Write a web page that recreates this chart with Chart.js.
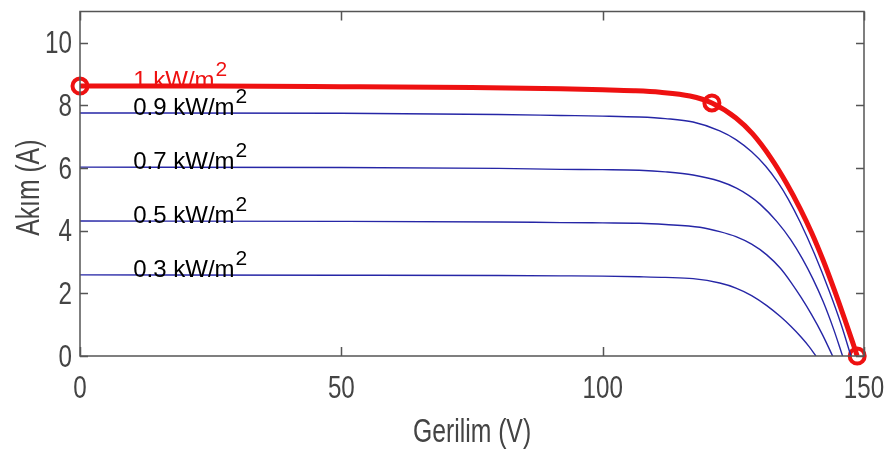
<!DOCTYPE html>
<html>
<head>
<meta charset="utf-8">
<script src="https://cdn.jsdelivr.net/npm/chart.js@4"></script>
<style>
    body { margin: 0; background: #fff; }
    #wrap { width: 885px; height: 452px; position: relative; }
</style>
</head>
<body>
<div id="wrap"><canvas id="ivChart"></canvas></div>
<script>
// I-V curves (V, A)
const v1000 = [0, 25, 50, 75, 92, 100, 106, 111, 116.7, 120.9, 125.5, 128.7, 132.2, 135.2, 137.8, 140, 142.2, 144.3, 146.3, 147.8, 148.7];
const i1000 = [8.62, 8.62, 8.60, 8.57, 8.53, 8.50, 8.47, 8.42, 8.30, 8.08, 7.60, 7.09, 6.32, 5.51, 4.70, 3.93, 3.05, 2.12, 1.18, 0.45, 0];

const v900 = [0, 50, 80, 92, 100, 107, 112, 117.3, 122.4, 125.5, 128.5, 131.2, 133.5, 135.5, 137.8, 140.5, 143.4, 145.6, 147.5];
const i900 = [7.76, 7.75, 7.71, 7.68, 7.66, 7.63, 7.58, 7.47, 7.19, 6.91, 6.52, 6.06, 5.55, 5.01, 4.27, 3.27, 2.05, 1.02, 0];

const v700 = [0, 50, 80, 92, 100, 107, 112, 117.3, 122.4, 125.6, 128, 130.1, 133.3, 136, 138.2, 140.2, 142.2, 144.2, 145.9];
const i700 = [6.03, 6.02, 5.99, 5.96, 5.95, 5.93, 5.88, 5.78, 5.58, 5.36, 5.12, 4.85, 4.30, 3.71, 3.11, 2.47, 1.73, 0.85, 0];

const v500 = [0, 50, 80, 92, 100, 107, 112, 118.6, 122.4, 125.5, 128.5, 131.4, 134, 136, 138, 140, 142, 144.0];
const i500 = [4.31, 4.30, 4.28, 4.26, 4.25, 4.24, 4.20, 4.11, 3.97, 3.81, 3.57, 3.23, 2.80, 2.36, 1.86, 1.31, 0.70, 0];

const v300 = [0, 50, 80, 92, 100, 107, 112, 117.3, 122.4, 125.5, 128.5, 131.4, 134, 136, 138, 139.5, 140.8];
const i300 = [2.59, 2.58, 2.57, 2.56, 2.55, 2.53, 2.51, 2.47, 2.33, 2.17, 1.93, 1.61, 1.26, 0.95, 0.60, 0.30, 0];

// marked points on the 1 kW/m2 curve (Isc, MPP, Voc)
const markV = [0, 120.9, 148.7];
const markI = [8.62, 8.08, 0];

// curve labels
const curveLabels = ['1 kW/m', '0.9 kW/m', '0.7 kW/m', '0.5 kW/m', '0.3 kW/m'];
const labelLevels = [i1000[0], i900[0], i700[0], i500[0], i300[0]];
const labelV = 10;

const xTicks = [0, 50, 100, 150];
const yTicks = [0, 2, 4, 6, 8, 10];

const RED = '#ee1111';
const BLUE = '#2626a6';
const AXIS = '#555555';
const TEXT = '#444444';

function pts(vs, is) {
    return vs.map((v, k) => ({ x: v, y: is[k] }));
}

function blueSet(vs, is) {
    return {
        data: pts(vs, is),
        borderColor: BLUE,
        borderWidth: 1.4,
        pointRadius: 0,
        cubicInterpolationMode: 'monotone',
        fill: false
    };
}

// squeezed text like the original export
function squeezed(ctx, text, px, py, align, sx, rot) {
    ctx.save();
    ctx.translate(px, py);
    if (rot) ctx.rotate(rot);
    ctx.scale(sx, 1);
    ctx.textAlign = align;
    ctx.fillText(text, 0, 0);
    ctx.restore();
}

const axesPlugin = {
    id: 'matlabAxes',
    afterDatasetsDraw(chart) {
        const ctx = chart.ctx;
        const a = chart.chartArea;
        const xs = chart.scales.x;
        const ys = chart.scales.y;
        ctx.save();

        // curve labels with superscript
        curveLabels.forEach((txt, k) => {
            const px = xs.getPixelForValue(labelV) + 1;
            const py = ys.getPixelForValue(labelLevels[k]) + 2;
            ctx.fillStyle = k === 0 ? RED : '#000000';
            ctx.textAlign = 'left';
            ctx.textBaseline = 'alphabetic';
            ctx.font = '24px "Liberation Sans", Arial, sans-serif';
            ctx.fillText(txt, px, py);
            const w = ctx.measureText(txt).width;
            ctx.font = '21px "Liberation Sans", Arial, sans-serif';
            ctx.fillText('2', px + w + 1, py - 12);
        });

        // box
        ctx.strokeStyle = AXIS;
        ctx.lineWidth = 1.5;
        ctx.strokeRect(a.left, a.top, a.right - a.left, a.bottom - a.top);

        // inward ticks
        ctx.beginPath();
        xTicks.forEach(t => {
            const px = Math.round(xs.getPixelForValue(t)) + 0.5;
            ctx.moveTo(px, a.bottom); ctx.lineTo(px, a.bottom - 9);
            ctx.moveTo(px, a.top); ctx.lineTo(px, a.top + 9);
        });
        yTicks.forEach(t => {
            const py = Math.round(ys.getPixelForValue(t)) + 0.5;
            ctx.moveTo(a.left, py); ctx.lineTo(a.left + 8, py);
            ctx.moveTo(a.right, py); ctx.lineTo(a.right - 8, py);
        });
        ctx.stroke();

        // tick labels
        ctx.fillStyle = TEXT;
        ctx.textBaseline = 'middle';
        ctx.font = '31px "Liberation Sans", Arial, sans-serif';
        xTicks.forEach(t => {
            squeezed(ctx, String(t), xs.getPixelForValue(t), a.bottom + 33, 'center', 0.78);
        });
        yTicks.forEach(t => {
            squeezed(ctx, String(t), a.left - 8, ys.getPixelForValue(t) + 2, 'right', 0.78);
        });

        // axis titles
        ctx.font = '33px "Liberation Sans", Arial, sans-serif';
        squeezed(ctx, 'Gerilim (V)', (a.left + a.right) / 2, a.bottom + 77, 'center', 0.75);
        squeezed(ctx, 'Akım (A)', 30, (a.top + a.bottom) / 2 + 4, 'center', 0.75, -Math.PI / 2);

        ctx.restore();
    }
};

const ctx = document.getElementById('ivChart').getContext('2d');
const ivChart = new Chart(ctx, {
    type: 'line',
    data: {
        datasets: [
            blueSet(v300, i300),
            blueSet(v500, i500),
            blueSet(v700, i700),
            blueSet(v900, i900),
            {
                data: pts(v1000, i1000),
                borderColor: RED,
                borderWidth: 5,
                pointRadius: 0,
                cubicInterpolationMode: 'monotone',
                fill: false
            },
            {
                type: 'scatter',
                data: pts(markV, markI),
                showLine: false,
                pointStyle: 'circle',
                pointRadius: 7.5,
                pointBorderWidth: 4,
                pointBorderColor: RED,
                pointBackgroundColor: 'rgba(0,0,0,0)',
                clip: false
            }
        ]
    },
    options: {
        responsive: true,
        maintainAspectRatio: false,
        animation: false,
        layout: { padding: { left: 80, right: 21, top: 6, bottom: 96 } },
        plugins: {
            legend: { display: false },
            tooltip: { enabled: false }
        },
        scales: {
            x: { type: 'linear', min: 0, max: 150, display: false },
            y: { type: 'linear', min: 0, max: 11, display: false }
        }
    },
    plugins: [axesPlugin]
});
</script>
</body>
</html>
